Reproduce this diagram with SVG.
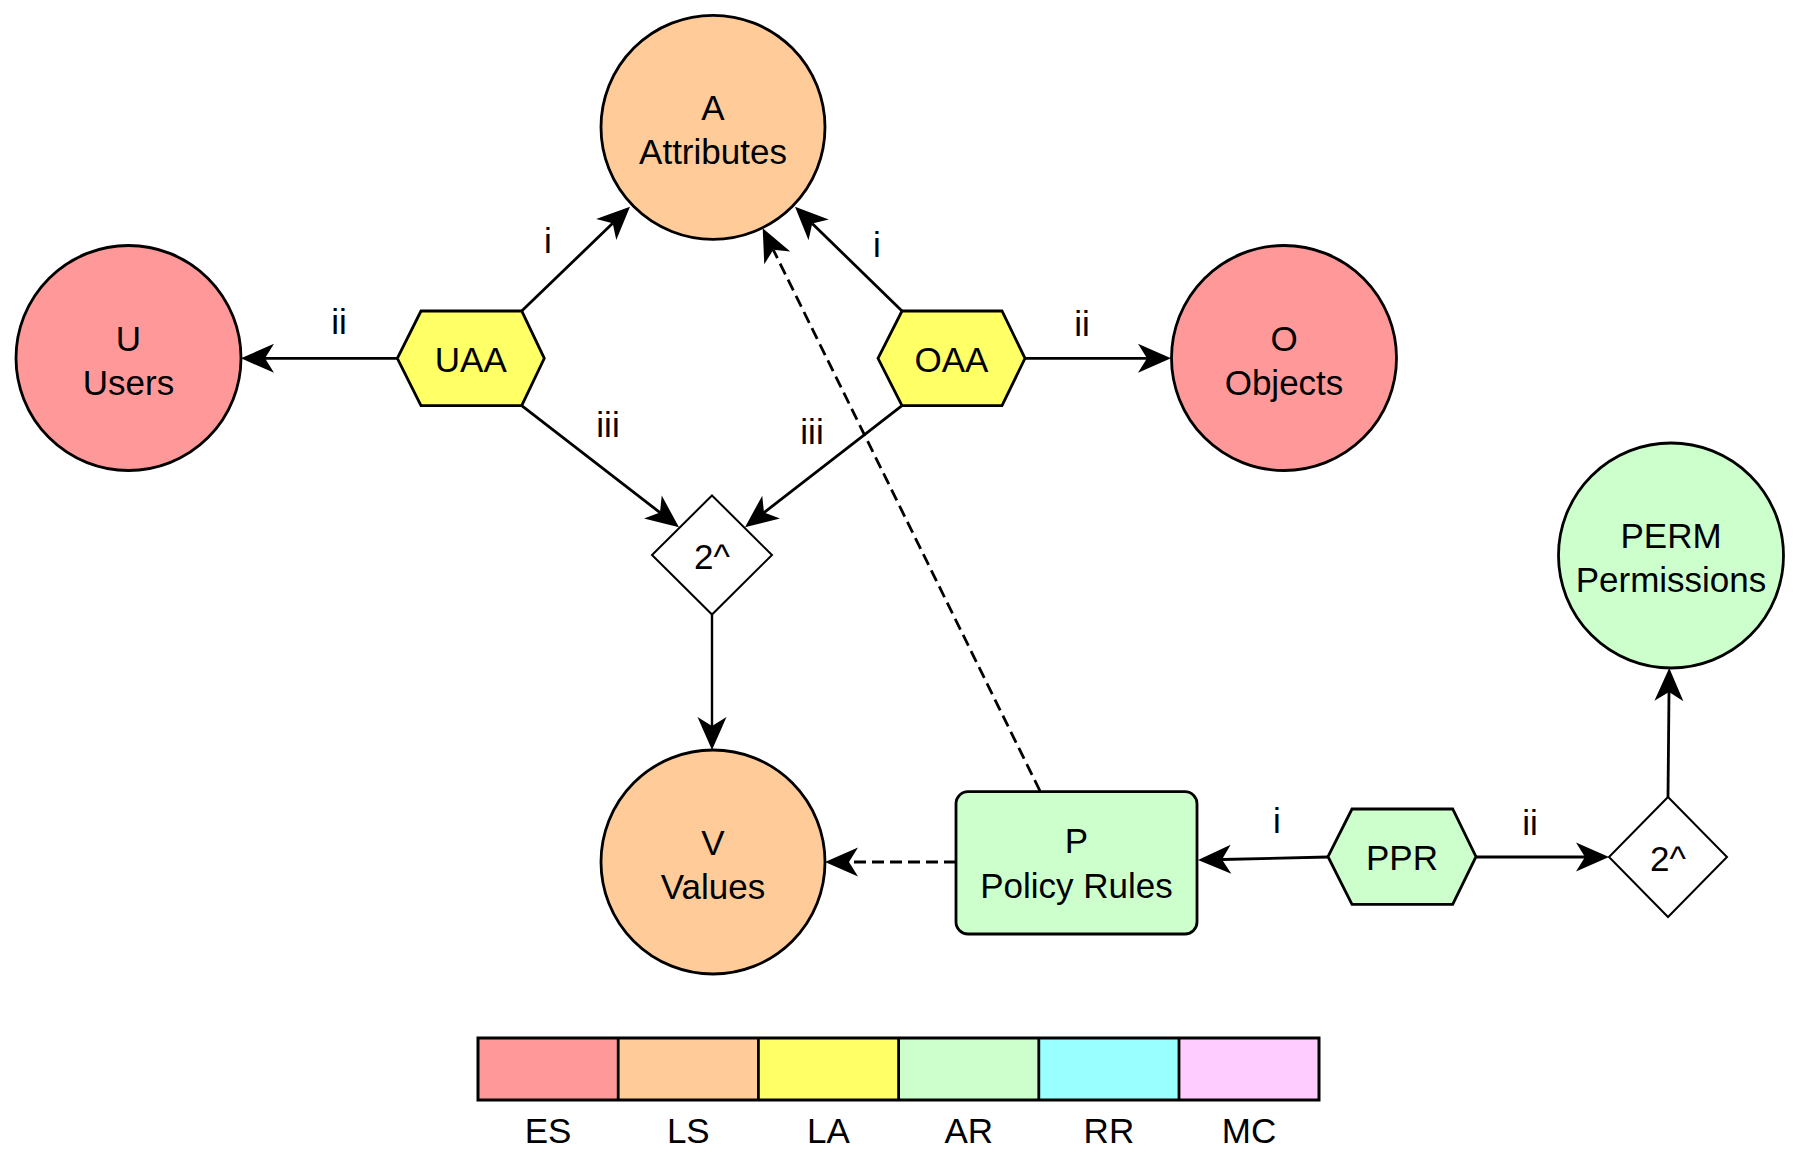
<svg xmlns="http://www.w3.org/2000/svg" width="1800" height="1176" viewBox="0 0 1800 1176">
<defs>
<style>
text{font-family:"Liberation Sans",Arial,Helvetica,sans-serif;font-size:35px;fill:#000;text-anchor:middle}
.n{stroke:#000;stroke-width:2.8}
.d{fill:#fff;stroke:#000;stroke-width:2}
.e{fill:none;stroke:#000;stroke-width:2.8}
.dash{stroke-dasharray:12 6}
.es{fill:#FF9999}.ls{fill:#FFCC99}.la{fill:#FFFF66}.ar{fill:#CCFFCC}.rr{fill:#99FFFF}.mc{fill:#FFCCFF}
</style>
<marker id="arr" markerUnits="userSpaceOnUse" viewBox="-10 -16 36 32" refX="0" refY="0" markerWidth="36" markerHeight="32" orient="auto" overflow="visible">
<path d="M24,0 L-9,-14.5 L0,0 L-9,14.5 Z" fill="#000"/>
</marker>
</defs>
<rect width="1800" height="1176" fill="#fff"/>
<g id="connectors">
<line class="e" x1="521.7" y1="311" x2="612.7" y2="223.3" marker-end="url(#arr)"/>
<line class="e" x1="397.3" y1="358.3" x2="265" y2="358.3" marker-end="url(#arr)"/>
<line class="e" x1="521.7" y1="405.7" x2="660" y2="512.6" marker-end="url(#arr)"/>
<line class="e" x1="902" y1="311" x2="812.2" y2="223.5" marker-end="url(#arr)"/>
<line class="e" x1="1025" y1="358.3" x2="1147" y2="358.3" marker-end="url(#arr)"/>
<line class="e" x1="902" y1="405.7" x2="764" y2="512.6" marker-end="url(#arr)"/>
<line class="e" x1="712" y1="615" x2="712" y2="726" marker-end="url(#arr)" style="stroke-width:2.4"/>
<line class="e dash" x1="1040" y1="791" x2="773.3" y2="249.8" marker-end="url(#arr)"/>
<line class="e dash" x1="956" y1="862" x2="849" y2="862" marker-end="url(#arr)"/>
<line class="e" x1="1328" y1="857" x2="1222" y2="859.5" marker-end="url(#arr)"/>
<line class="e" x1="1476" y1="857" x2="1585" y2="857" marker-end="url(#arr)"/>
<line class="e" x1="1668" y1="797" x2="1669" y2="692" marker-end="url(#arr)"/>
<text x="548" y="253">i</text>
<text x="339" y="334">ii</text>
<text x="608" y="437">iii</text>
<text x="812" y="444">iii</text>
<text x="877" y="257">i</text>
<text x="1082" y="336">ii</text>
<text x="1277" y="833">i</text>
<text x="1530" y="835">ii</text>
</g>
<g id="A"><circle class="n ls" cx="713" cy="127.3" r="112"/><text x="713" y="120">A</text><text x="713" y="164">Attributes</text></g>
<g id="U"><circle class="n es" cx="128.5" cy="358" r="112.5"/><text x="128.5" y="351">U</text><text x="128.5" y="394.5">Users</text></g>
<g id="O"><circle class="n es" cx="1284" cy="358" r="112.5"/><text x="1284" y="351">O</text><text x="1284" y="394.5">Objects</text></g>
<g id="V"><circle class="n ls" cx="713" cy="862" r="112"/><text x="713" y="855">V</text><text x="713" y="898.5">Values</text></g>
<g id="PERM"><circle class="n ar" cx="1671" cy="555.5" r="112.5"/><text x="1671" y="548.3">PERM</text><text x="1671" y="591.7">Permissions</text></g>
<g id="UAA"><polygon class="n la" points="397.3,358.3 421,311 521.7,311 544.3,358.3 521.7,405.7 421,405.7"/><text x="470.8" y="371.5">UAA</text></g>
<g id="OAA"><polygon class="n la" points="878,358.3 902,311 1002,311 1025,358.3 1002,405.7 902,405.7"/><text x="951.5" y="371.5">OAA</text></g>
<g id="PPR"><polygon class="n ar" points="1328,856.7 1352,809 1452.7,809 1476,856.7 1452.7,904.3 1352,904.3"/><text x="1402" y="870">PPR</text></g>
<g id="P"><rect class="n ar" x="956" y="791.7" width="241" height="142.3" rx="12" ry="12"/><text x="1076.5" y="853.3">P</text><text x="1076.5" y="897.7">Policy Rules</text></g>
<g id="pow1"><polygon class="d" points="712,495.5 772,555 712,614.5 652,555"/><text x="712" y="569">2^</text></g>
<g id="pow2"><polygon class="d" points="1668,797 1727,857 1668,917 1609,857"/><text x="1668" y="871">2^</text></g>
<g id="legend">
<rect class="es" x="478" y="1038" width="140.2" height="62"/>
<rect class="ls" x="618.2" y="1038" width="140.2" height="62"/>
<rect class="la" x="758.4" y="1038" width="140.2" height="62"/>
<rect class="ar" x="898.6" y="1038" width="140.2" height="62"/>
<rect class="rr" x="1038.8" y="1038" width="140.2" height="62"/>
<rect class="mc" x="1179" y="1038" width="140" height="62"/>
<rect x="478" y="1038" width="841" height="62" fill="none" stroke="#000" stroke-width="3"/>
<g stroke="#000" stroke-width="2.8">
<line x1="618.2" y1="1038" x2="618.2" y2="1100"/>
<line x1="758.4" y1="1038" x2="758.4" y2="1100"/>
<line x1="898.6" y1="1038" x2="898.6" y2="1100"/>
<line x1="1038.8" y1="1038" x2="1038.8" y2="1100"/>
<line x1="1179" y1="1038" x2="1179" y2="1100"/>
</g>
<text x="548" y="1143">ES</text>
<text x="688.3" y="1143">LS</text>
<text x="828.5" y="1143">LA</text>
<text x="968.7" y="1143">AR</text>
<text x="1108.9" y="1143">RR</text>
<text x="1249" y="1143">MC</text>
</g>
</svg>
